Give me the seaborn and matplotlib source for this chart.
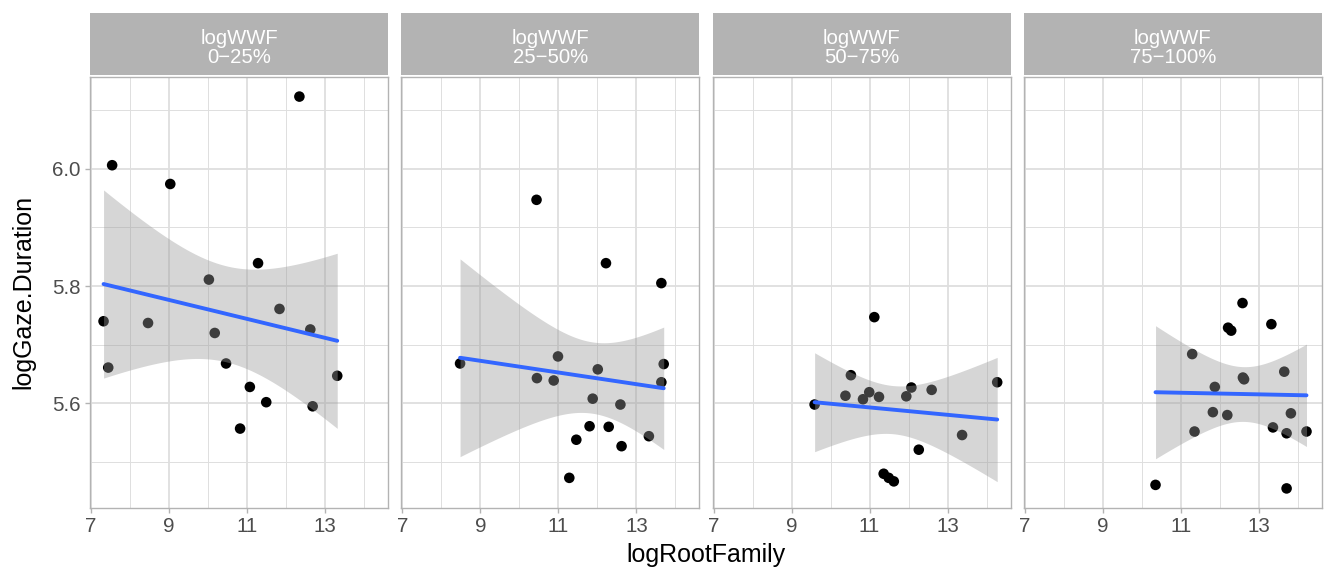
import numpy as np
import pandas as pd
import matplotlib
matplotlib.use("Agg")
import matplotlib.pyplot as plt
import seaborn as sns
from matplotlib.patches import Rectangle
from matplotlib.ticker import MultipleLocator

# DATOS
bins = ["0\u221225%", "25\u221250%", "50\u221275%", "75\u2212100%"]

root_q1 = [7.32, 7.44, 7.54, 8.46, 9.03, 10.02, 10.17, 10.46, 10.82, 11.07,
           11.28, 11.49, 11.83, 12.34, 12.62, 12.68, 13.31]
gaze_q1 = [5.740, 5.661, 6.006, 5.737, 5.974, 5.811, 5.720, 5.668, 5.557, 5.628,
           5.839, 5.602, 5.761, 6.123, 5.726, 5.595, 5.647]

root_q2 = [8.48, 10.44, 10.45, 10.88, 10.99, 11.28, 11.46, 11.80, 11.88, 12.01,
           12.22, 12.29, 12.59, 12.62, 13.32, 13.64, 13.64, 13.70]
gaze_q2 = [5.668, 5.947, 5.643, 5.639, 5.680, 5.473, 5.538, 5.561, 5.608, 5.658,
           5.839, 5.560, 5.598, 5.527, 5.544, 5.805, 5.636, 5.667]

root_q3 = [9.59, 10.38, 10.52, 10.83, 10.99, 11.12, 11.24, 11.36, 11.49, 11.62,
           11.94, 12.07, 12.26, 12.59, 13.37, 14.27]
gaze_q3 = [5.598, 5.613, 5.648, 5.607, 5.619, 5.747, 5.611, 5.480, 5.473, 5.467,
           5.612, 5.627, 5.521, 5.623, 5.546, 5.636]

root_q4 = [10.35, 11.29, 11.35, 11.82, 11.87, 12.19, 12.21, 12.29, 12.58, 12.59,
           12.62, 13.32, 13.36, 13.65, 13.71, 13.71, 13.82, 14.22]
gaze_q4 = [5.461, 5.684, 5.552, 5.585, 5.628, 5.580, 5.729, 5.724, 5.771, 5.644,
           5.641, 5.735, 5.559, 5.654, 5.549, 5.455, 5.583, 5.552]

roots = [root_q1, root_q2, root_q3, root_q4]
gazes = [gaze_q1, gaze_q2, gaze_q3, gaze_q4]

df = pd.concat([pd.DataFrame({"logRootFamily": r, "logGaze.Duration": g, "bin": b})
                for r, g, b in zip(roots, gazes, bins)], ignore_index=True)

# t quantil para el intervalo de confianza (como geom_smooth)
try:
    from scipy import stats
    def tq(dfree):
        return stats.t.ppf(0.975, dfree)
except ImportError:
    def tq(dfree):
        return 2.13


def lm_band(x, y, grid):
    x = np.asarray(x)
    y = np.asarray(y)
    n = len(x)
    b, a = np.polyfit(x, y, 1)
    resid = y - (a + b * x)
    s = np.sqrt(resid @ resid / (n - 2))
    sxx = ((x - x.mean()) ** 2).sum()
    se = s * np.sqrt(1 / n + (grid - x.mean()) ** 2 / sxx)
    fit = a + b * grid
    return fit - tq(n - 2) * se, fit + tq(n - 2) * se


# ESTILO
sns.set_theme(style="white")
plt.rcParams["font.family"] = ["Liberation Sans", "DejaVu Sans"]

grey70 = "#B3B3B3"
grey87 = "#DEDEDE"

g = sns.FacetGrid(df, col="bin", col_order=bins, sharex=True, sharey=True,
                  height=5.7, aspect=13.26 / 4 / 5.7)
g.figure.set_size_inches(13.26, 5.7)
g.map_dataframe(sns.scatterplot, x="logRootFamily", y="logGaze.Duration",
                color="black", s=58, edgecolor="none", linewidth=0, zorder=2)

allx = df["logRootFamily"]
ally = df["logGaze.Duration"]
xr = allx.max() - allx.min()
yr = ally.max() - ally.min()

for i, (ax, b) in enumerate(zip(g.axes.flat, bins)):
    sub = df[df["bin"] == b]
    grid = np.linspace(sub["logRootFamily"].min(), sub["logRootFamily"].max(), 80)
    lo, hi = lm_band(sub["logRootFamily"], sub["logGaze.Duration"], grid)
    ax.fill_between(grid, lo, hi, color="#999999", alpha=0.4, linewidth=0, zorder=3)
    sns.regplot(data=sub, x="logRootFamily", y="logGaze.Duration", ax=ax,
                scatter=False, ci=None, color="#3366FF",
                line_kws=dict(linewidth=2.8, zorder=4))

    ax.set_xlim(allx.min() - 0.05 * xr, allx.max() + 0.05 * xr)
    ax.set_ylim(ally.min() - 0.05 * yr, ally.max() + 0.05 * yr)
    ax.xaxis.set_major_locator(MultipleLocator(2, offset=1))
    ax.xaxis.set_minor_locator(MultipleLocator(1))
    ax.yaxis.set_major_locator(MultipleLocator(0.2))
    ax.yaxis.set_minor_locator(MultipleLocator(0.1))
    ax.grid(which="major", color=grey87, linewidth=1.3)
    ax.grid(which="minor", color=grey87, linewidth=0.7)
    ax.set_axisbelow(True)
    for sp in ax.spines.values():
        sp.set_visible(True)
        sp.set_color(grey70)
        sp.set_linewidth(1.0)
    ax.tick_params(axis="x", which="major", length=3.6, width=1.0, color=grey70,
                   labelsize=14.8, labelcolor="#4D4D4D", pad=3, bottom=True)
    ax.tick_params(axis="y", which="major", length=3.6 if i == 0 else 0, width=1.0,
                   color=grey70, labelsize=14.8, labelcolor="#4D4D4D", pad=3,
                   left=True)
    ax.tick_params(which="minor", length=0)
    ax.set_title("")
    ax.set_xlabel("")
    ax.set_ylabel("")

    # tira del facet
    ax.add_patch(Rectangle((0, 1.0046), 1, 0.1439, transform=ax.transAxes,
                           facecolor=grey70, edgecolor="none", clip_on=False))
    ax.text(0.5, 1.067, "logWWF\n" + b, transform=ax.transAxes,
            ha="center", va="center", color="white", fontsize=14.6,
            linespacing=1.05)

g.figure.subplots_adjust(left=90 / 1326, right=1322 / 1326,
                         bottom=1 - 508 / 570, top=1 - 77 / 570, wspace=13 / 298)
g.figure.text(706 / 1326, 1 - 555 / 570, "logRootFamily", ha="center",
              va="center", fontsize=18, color="black")
g.figure.text(23 / 1326, 1 - 292 / 570, "logGaze.Duration", ha="center",
              va="center", rotation=90, fontsize=18, color="black")

g.figure.savefig("out.png", dpi=100, facecolor="white")
